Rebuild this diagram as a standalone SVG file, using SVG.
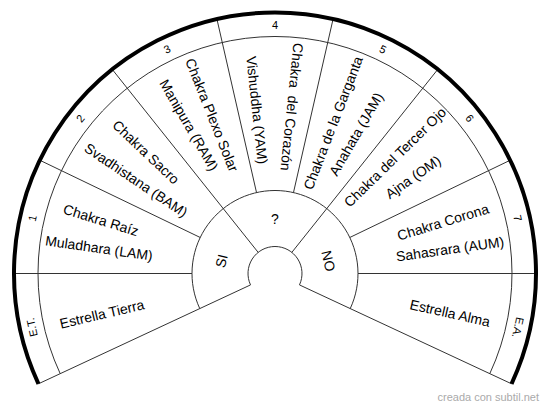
<svg xmlns="http://www.w3.org/2000/svg" width="550" height="408" viewBox="0 0 550 408">
<style>
.thin{fill:none;stroke:#333;stroke-width:1}
.thick{fill:none;stroke:#000;stroke-width:4}
text{font-family:"Liberation Sans",Arial,sans-serif;fill:#000;text-anchor:middle;dominant-baseline:central}
.lbl{font-size:14px}
.num{font-size:11px}
.mark{font-size:11px;fill:#aaa;text-anchor:end;dominant-baseline:auto}
</style>
<rect width="550" height="408" fill="#fff"/>
<g id="connectors">
<path class="thin" d="M250.53 284.91 L38.46 383.80"/>
<path class="thin" d="M299.47 284.91 L511.54 383.80"/>
<path class="thin" d="M192 273.5 L14 273.5"/>
<path class="thin" d="M358 273.5 L536 273.5"/>
<path class="thin" d="M200.22 237.49 L39.85 160.26"/>
<path class="thin" d="M258.17 252.39 L112.27 69.44"/>
<path class="thin" d="M256.53 192.58 L216.92 19.04"/>
<path class="thin" d="M293.47 192.58 L333.08 19.04"/>
<path class="thin" d="M291.83 252.39 L437.73 69.44"/>
<path class="thin" d="M349.78 237.49 L510.15 160.26"/>
<path class="thin" d="M60.21 373.66 A237 237 0 1 1 489.79 373.66"/>
<path class="thin" d="M199.78 308.58 A83 83 0 1 1 350.22 308.58"/>
<path class="thin" d="M250.53 284.91 A27 27 0 1 1 299.47 284.91"/>
<path class="thick" d="M38.46 383.80 A261 261 0 1 1 511.54 383.80"/>
</g>
<g id="n-et">
<text class="num" transform="translate(31.9 327.39) rotate(-102.5)">E.T.</text>
<text class="lbl" transform="translate(102 314) rotate(-13.2)">Estrella Tierra</text>
</g>
<g id="n-1">
<text class="num" transform="translate(32.24 218.1) rotate(-77.14)">1</text>
<text class="lbl" transform="translate(101 220) rotate(17.1)">Chakra Raíz</text>
<text class="lbl" transform="translate(99 248) rotate(8.2)">Muladhara (LAM)</text>
</g>
<g id="n-2">
<text class="num" transform="translate(80.32 118.25) rotate(-51.43)">2</text>
<text class="lbl" transform="translate(146 152) rotate(43.3)">Chakra Sacro</text>
<text class="lbl" transform="translate(136 180) rotate(33.9)">Svadhistana (BAM)</text>
</g>
<g id="n-3">
<text class="num" transform="translate(166.96 49.16) rotate(-25.71)">3</text>
<text class="lbl" transform="translate(212 115) rotate(68.3)">Chakra Plexo Solar</text>
<text class="lbl" transform="translate(189 125) rotate(59.9)">Manipura (RAM)</text>
</g>
<g id="n-4">
<text class="num" transform="translate(275 24.5)">4</text>
<text class="lbl" xml:space="preserve" transform="translate(292 107) rotate(95.8)">Chakra  del Corazón</text>
<text class="lbl" transform="translate(257 110) rotate(83.8)">Vishuddha (YAM)</text>
</g>
<g id="n-5">
<text class="num" transform="translate(383.04 49.16) rotate(25.71)">5</text>
<text class="lbl" transform="translate(333 123) rotate(-68.9)">Chakra de la Garganta</text>
<text class="lbl" transform="translate(356 134) rotate(-59.9)">Anahata (JAM)</text>
</g>
<g id="n-6">
<text class="num" transform="translate(469.68 118.25) rotate(51.43)">6</text>
<text class="lbl" transform="translate(395 157) rotate(-44.2)">Chakra del Tercer Ojo</text>
<text class="lbl" transform="translate(413 177) rotate(-35)">Ajna (OM)</text>
</g>
<g id="n-7">
<text class="num" transform="translate(517.76 218.1) rotate(77.14)">7</text>
<text class="lbl" transform="translate(443 222) rotate(-17)">Chakra Corona</text>
<text class="lbl" transform="translate(450 249) rotate(-8)">Sahasrara (AUM)</text>
</g>
<g id="n-ea">
<text class="num" transform="translate(518.1 327.39) rotate(102.5)">E.A.</text>
<text class="lbl" transform="translate(450 313) rotate(12.7)">Estrella Alma</text>
</g>
<g id="n-si">
<text class="lbl" transform="translate(221.45 260.93) rotate(-76.79)">SI</text>
</g>
<g id="n-q">
<text class="lbl" transform="translate(275 218.5)">?</text>
</g>
<g id="n-no">
<text class="lbl" transform="translate(328.55 260.93) rotate(76.79)">NO</text>
</g>
<text class="mark" x="539" y="401">creada con subtil.net</text>
</svg>
